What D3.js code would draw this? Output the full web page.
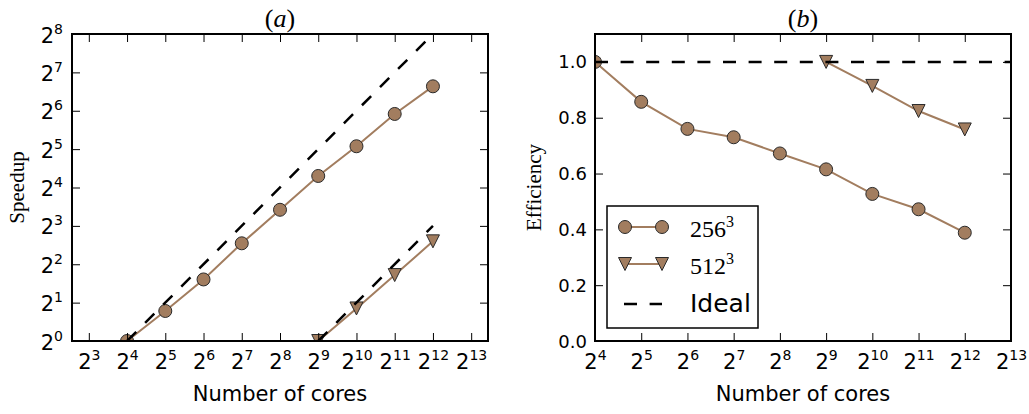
<!DOCTYPE html>
<html>
<head>
<meta charset="utf-8">
<script src="https://cdn.jsdelivr.net/npm/d3@7"></script>
<style>
  body { margin: 0; background: #fff; }
  svg { display: block; }
</style>
</head>
<body>
<div id="chart"></div>
<script>
// values
var cores256 = [16, 32, 64, 128, 256, 512, 1024, 2048, 4096];
var speedup256 = [1, 1.72, 3.04, 5.84, 10.7, 19.7, 33.7, 60.4, 99.5];
var eff256 = [1.0, 0.857, 0.76, 0.73, 0.672, 0.615, 0.527, 0.472, 0.388];

var cores512 = [512, 1024, 2048, 4096];
var speedup512 = [1, 1.8, 3.29, 6.05];
var eff512 = [1.0, 0.914, 0.824, 0.758];

var ideal256X = [16, 4096], ideal256Y = [1, 256];
var ideal512X = [512, 4096], ideal512Y = [1, 8];
var idealEffX = [16, 8192], idealEffY = [1, 1];

var leftXExps = [3, 4, 5, 6, 7, 8, 9, 10, 11, 12, 13];
var leftYExps = [0, 1, 2, 3, 4, 5, 6, 7, 8];
var rightXExps = [4, 5, 6, 7, 8, 9, 10, 11, 12, 13];
var rightYTicks = [0.0, 0.2, 0.4, 0.6, 0.8, 1.0];

var seriesNames = ["256", "512", "Ideal"];

var brown = "#a27d5f";
var edge = "#2a2a2a";
var sans = "DejaVu Sans, sans-serif";
var serif = "Liberation Serif, serif";
var dash = "13,12.6";

var svg = d3.select("#chart").append("svg")
	.attr("width", 1029)
	.attr("height", 414);

svg.append("rect").attr("width", 1029).attr("height", 414).attr("fill", "#fff");

var left = {x0: 72, x1: 488, y0: 34, y1: 341};
var right = {x0: 595, x1: 1011, y0: 34, y1: 341};

var xL = d3.scaleLog().base(2).domain([Math.pow(2, 2.56), Math.pow(2, 13.44)]).range([left.x0, left.x1]);
var yL = d3.scaleLog().base(2).domain([1, 256]).range([left.y1, left.y0]);
var xR = d3.scaleLog().base(2).domain([16, 8192]).range([right.x0, right.x1]);
var yR = d3.scaleLinear().domain([0, 1.1]).range([right.y1, right.y0]);

var defs = svg.append("defs");
[["clipL", left], ["clipR", right]].forEach(function(c) {
	defs.append("clipPath").attr("id", c[0]).append("rect")
		.attr("x", c[1].x0).attr("y", c[1].y0)
		.attr("width", c[1].x1 - c[1].x0).attr("height", c[1].y1 - c[1].y0);
});

function powLabel(sel, big, small, rise) {
	sel.each(function(d) {
		var t = d3.select(this);
		var e = Math.round(Math.log2(d));
		t.text(null);
		t.append("tspan").attr("font-size", big).text("2");
		t.append("tspan").attr("font-size", small).attr("dy", -rise).text(e);
	});
}

function styleAxis(g) {
	g.select(".domain").remove();
	g.selectAll(".tick line").attr("stroke", "#000").attr("stroke-width", 1);
	g.attr("font-family", sans);
}

function markers(g, xs, ys, x, y, kind) {
	var pts = g.selectAll(null).data(xs.map(function(v, i) { return [v, ys[i]]; })).enter();
	if (kind === "circle") {
		pts.append("circle")
			.attr("cx", function(d) { return x(d[0]); })
			.attr("cy", function(d) { return y(d[1]); })
			.attr("r", 6.5)
			.attr("fill", brown).attr("stroke", edge).attr("stroke-width", 1);
	} else {
		pts.append("path")
			.attr("d", "M0,6.5L-6.5,-6.5L6.5,-6.5Z")
			.attr("transform", function(d) { return "translate(" + x(d[0]) + "," + y(d[1]) + ")"; })
			.attr("fill", brown).attr("stroke", edge).attr("stroke-width", 1);
	}
}

function series(g, xs, ys, x, y, kind) {
	var line = d3.line().x(function(d) { return x(d[0]); }).y(function(d) { return y(d[1]); });
	g.append("path").datum(xs.map(function(v, i) { return [v, ys[i]]; }))
		.attr("d", line).attr("fill", "none").attr("stroke", brown).attr("stroke-width", 2);
	markers(g, xs, ys, x, y, kind);
}

function dashed(g, xs, ys, x, y) {
	var line = d3.line().x(function(d) { return x(d[0]); }).y(function(d) { return y(d[1]); });
	g.append("path").datum(xs.map(function(v, i) { return [v, ys[i]]; }))
		.attr("d", line).attr("fill", "none").attr("stroke", "#000")
		.attr("stroke-width", 2.5).attr("stroke-dasharray", dash);
}

// ---------- panel (a) ----------
var gL = svg.append("g").attr("clip-path", "url(#clipL)");
series(gL, cores256, speedup256, xL, yL, "circle");
series(gL, cores512, speedup512, xL, yL, "tri");
dashed(gL, ideal256X, ideal256Y, xL, yL);
dashed(gL, ideal512X, ideal512Y, xL, yL);

var lxVals = leftXExps.map(function(e) { return Math.pow(2, e); });
var lyVals = leftYExps.map(function(e) { return Math.pow(2, e); });

var axLB = svg.append("g").attr("transform", "translate(0," + left.y1 + ")")
	.call(d3.axisBottom(xL).tickValues(lxVals).tickSizeInner(-8).tickSizeOuter(0));
styleAxis(axLB);
axLB.selectAll("text").attr("y", 28).attr("dy", null).attr("fill", "#000").call(powLabel, 21, 14, 9);

var axLT = svg.append("g").attr("transform", "translate(0," + left.y0 + ")")
	.call(d3.axisTop(xL).tickValues(lxVals).tickSizeInner(-8).tickSizeOuter(0).tickFormat(""));
styleAxis(axLT);

var axLL = svg.append("g").attr("transform", "translate(" + left.x0 + ",0)")
	.call(d3.axisLeft(yL).tickValues(lyVals).tickSizeInner(-8).tickSizeOuter(0));
styleAxis(axLL);
axLL.selectAll("text").attr("x", -9).attr("dy", 8).attr("fill", "#000").call(powLabel, 21, 14, 9);

var axLR = svg.append("g").attr("transform", "translate(" + left.x1 + ",0)")
	.call(d3.axisRight(yL).tickValues(lyVals).tickSizeInner(-8).tickSizeOuter(0).tickFormat(""));
styleAxis(axLR);

svg.append("rect").attr("x", left.x0).attr("y", left.y0)
	.attr("width", left.x1 - left.x0).attr("height", left.y1 - left.y0)
	.attr("fill", "none").attr("stroke", "#000").attr("stroke-width", 2);

var tA = svg.append("text").attr("x", (left.x0 + left.x1) / 2).attr("y", 27)
	.attr("text-anchor", "middle").attr("font-family", serif).attr("font-size", 26);
tA.append("tspan").text("(");
tA.append("tspan").attr("font-style", "italic").text("a");
tA.append("tspan").text(")");

svg.append("text").attr("transform", "translate(24," + (left.y0 + left.y1) / 2 + ") rotate(-90)")
	.attr("text-anchor", "middle").attr("font-family", serif).attr("font-size", 21)
	.text("Speedup");

svg.append("text").attr("x", (left.x0 + left.x1) / 2).attr("y", 401)
	.attr("text-anchor", "middle").attr("font-family", sans).attr("font-size", 21)
	.text("Number of cores");

// ---------- panel (b) ----------
var gR = svg.append("g").attr("clip-path", "url(#clipR)");
series(gR, cores256, eff256, xR, yR, "circle");
series(gR, cores512, eff512, xR, yR, "tri");
dashed(gR, idealEffX, idealEffY, xR, yR);

var rxVals = rightXExps.map(function(e) { return Math.pow(2, e); });

var axRB = svg.append("g").attr("transform", "translate(0," + right.y1 + ")")
	.call(d3.axisBottom(xR).tickValues(rxVals).tickSizeInner(-8).tickSizeOuter(0));
styleAxis(axRB);
axRB.selectAll("text").attr("y", 28).attr("dy", null).attr("fill", "#000").call(powLabel, 21, 14, 9);

var axRT = svg.append("g").attr("transform", "translate(0," + right.y0 + ")")
	.call(d3.axisTop(xR).tickValues(rxVals).tickSizeInner(-8).tickSizeOuter(0).tickFormat(""));
styleAxis(axRT);

var axRL = svg.append("g").attr("transform", "translate(" + right.x0 + ",0)")
	.call(d3.axisLeft(yR).tickValues(rightYTicks).tickSizeInner(-8).tickSizeOuter(0).tickFormat(d3.format(".1f")));
styleAxis(axRL);
axRL.selectAll("text").attr("x", -8).attr("dy", 6).attr("font-size", 18).attr("fill", "#000");

var axRR = svg.append("g").attr("transform", "translate(" + right.x1 + ",0)")
	.call(d3.axisRight(yR).tickValues(rightYTicks).tickSizeInner(-8).tickSizeOuter(0).tickFormat(""));
styleAxis(axRR);

svg.append("rect").attr("x", right.x0).attr("y", right.y0)
	.attr("width", right.x1 - right.x0).attr("height", right.y1 - right.y0)
	.attr("fill", "none").attr("stroke", "#000").attr("stroke-width", 2);

var tB = svg.append("text").attr("x", (right.x0 + right.x1) / 2).attr("y", 27)
	.attr("text-anchor", "middle").attr("font-family", serif).attr("font-size", 26);
tB.append("tspan").text("(");
tB.append("tspan").attr("font-style", "italic").text("b");
tB.append("tspan").text(")");

svg.append("text").attr("transform", "translate(541," + (right.y0 + right.y1) / 2 + ") rotate(-90)")
	.attr("text-anchor", "middle").attr("font-family", serif).attr("font-size", 21)
	.text("Efficiency");

svg.append("text").attr("x", (right.x0 + right.x1) / 2).attr("y", 401)
	.attr("text-anchor", "middle").attr("font-family", sans).attr("font-size", 21)
	.text("Number of cores");

// legend
var leg = svg.append("g");
leg.append("rect").attr("x", 607).attr("y", 206).attr("width", 151).attr("height", 122)
	.attr("fill", "#fff").attr("stroke", "#000").attr("stroke-width", 1.5);

var rowY = [227, 264, 304];
var kinds = ["circle", "tri", "dash"];
var lx = d3.scaleLinear().domain([0, 1]).range([625, 662]);
var ly = d3.scaleLinear().domain([0, 1]).range([0, 1]);

seriesNames.forEach(function(name, i) {
	var g = leg.append("g").attr("transform", "translate(0," + rowY[i] + ")");
	if (kinds[i] === "dash") {
		g.append("line").attr("x1", 624).attr("x2", 662).attr("y1", 0).attr("y2", 0)
			.attr("stroke", "#000").attr("stroke-width", 2.5).attr("stroke-dasharray", dash);
		g.append("text").attr("x", 690).attr("y", 8).attr("font-family", sans).attr("font-size", 25).text(name);
	} else {
		series(g, [0, 1], [0, 0], lx, ly, kinds[i]);
		var t = g.append("text").attr("x", 690).attr("y", 10).attr("font-family", serif).attr("font-size", 24);
		t.append("tspan").text(name);
		t.append("tspan").attr("font-size", 16).attr("dy", -10).text("3");
	}
});
</script>
</body>
</html>
